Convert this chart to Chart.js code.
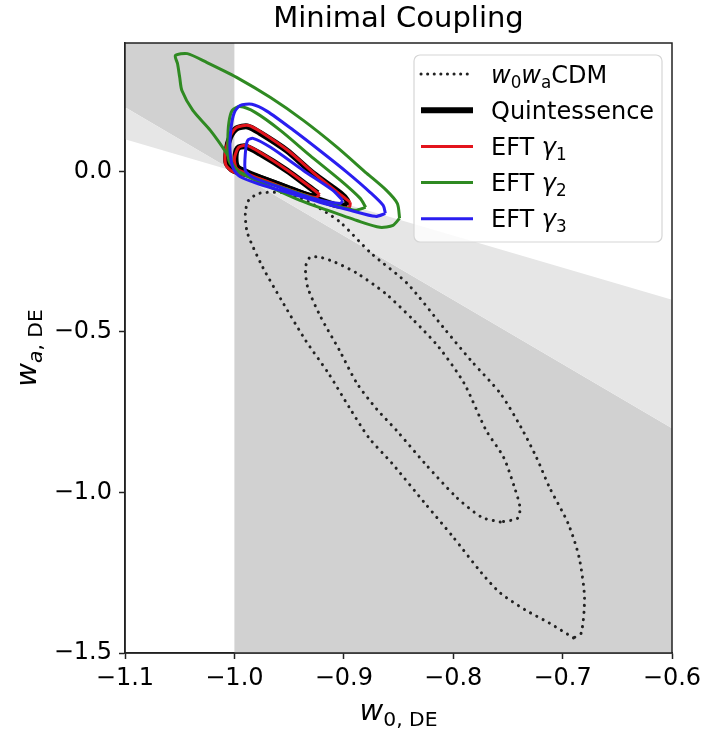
<!DOCTYPE html>
<html>
<head>
<meta charset="utf-8">
<script src="https://cdn.jsdelivr.net/npm/chart.js@4.4.1/dist/chart.umd.min.js"></script>
<style>
  html, body { margin: 0; padding: 0; background: #fff; }
  #wrap { width: 708px; height: 734px; }
</style>
</head>
<body>
<div id="wrap"><canvas id="chart" width="708" height="734"></canvas></div>
<script>
// --- axes ---
const xRange = [-1.1, -0.6];
const yRange = [-1.5, 0.4];
const xTickVals = [-1.1, -1.0, -0.9, -0.8, -0.7, -0.6];
const yTickVals = [-1.5, -1.0, -0.5, 0.0];

// --- shaded priors (w0, wa corners) ---
const darkLeft = [[-1.1, 0.4], [-1.0, 0.4], [-1.0, 0.0], [-1.1, 0.2]];
const darkRight = [[-1.0, 0.0], [-0.6, -0.8], [-0.6, -1.5], [-1.0, -1.5]];
const lightBand = [[-1.1, 0.1], [-1.1, 0.2], [-0.6, -0.8], [-0.6, -0.4]];

// --- contours, [w0, wa] ---
const lcdm95 = [
  [-0.690, -1.453], [-0.712, -1.407], [-0.734, -1.366], [-0.757, -1.313], [-0.774, -1.251],
  [-0.800, -1.139], [-0.826, -1.033], [-0.856, -0.909], [-0.877, -0.830], [-0.895, -0.735],
  [-0.914, -0.629], [-0.935, -0.526], [-0.957, -0.401], [-0.974, -0.299], [-0.988, -0.193],
  [-0.990, -0.131], [-0.987, -0.090], [-0.977, -0.068], [-0.956, -0.066], [-0.940, -0.082],
  [-0.922, -0.115], [-0.903, -0.159], [-0.875, -0.255], [-0.842, -0.349], [-0.809, -0.486],
  [-0.784, -0.588], [-0.757, -0.691], [-0.738, -0.797], [-0.724, -0.890], [-0.712, -0.984],
  [-0.695, -1.096], [-0.685, -1.201], [-0.680, -1.326], [-0.683, -1.438]
];
const lcdm68 = [
  [-0.757, -1.092], [-0.774, -1.077], [-0.797, -1.015], [-0.826, -0.909], [-0.852, -0.806],
  [-0.870, -0.740], [-0.888, -0.660], [-0.904, -0.557], [-0.921, -0.454], [-0.933, -0.361],
  [-0.935, -0.299], [-0.931, -0.268], [-0.921, -0.268], [-0.908, -0.283], [-0.888, -0.317],
  [-0.862, -0.380], [-0.836, -0.464], [-0.813, -0.548], [-0.790, -0.660], [-0.770, -0.806],
  [-0.754, -0.890], [-0.744, -0.984], [-0.739, -1.046], [-0.741, -1.080]
];
const quint95 = [
  [-0.897, -0.106], [-0.906, -0.106], [-0.928, -0.081], [-0.952, -0.050], [-0.977, -0.019],
  [-1.001, 0.003], [-1.007, 0.025], [-1.007, 0.065], [-1.004, 0.106], [-0.998, 0.134],
  [-0.988, 0.140], [-0.977, 0.121], [-0.952, 0.065], [-0.928, -0.006], [-0.903, -0.068],
  [-0.897, -0.090]
];
const quint68 = [
  [-0.924, -0.068], [-0.928, -0.078], [-0.946, -0.059], [-0.970, -0.028], [-0.988, -0.003],
  [-0.997, 0.012], [-0.999, 0.040], [-0.997, 0.072], [-0.990, 0.078], [-0.977, 0.056],
  [-0.952, 0.003], [-0.931, -0.050]
];
const eft1_95 = [
  [-0.894, -0.096], [-0.895, -0.112], [-0.905, -0.109], [-0.928, -0.084], [-0.953, -0.053],
  [-0.978, -0.022], [-1.002, 0.000], [-1.008, 0.022], [-1.008, 0.065], [-1.004, 0.109],
  [-0.998, 0.137], [-0.987, 0.143], [-0.975, 0.121], [-0.950, 0.062], [-0.926, -0.009],
  [-0.902, -0.075]
];
const eft1_68 = [
  [-0.922, -0.072], [-0.926, -0.081], [-0.946, -0.062], [-0.971, -0.031], [-0.989, -0.006],
  [-0.998, 0.009], [-1.000, 0.040], [-0.996, 0.075], [-0.989, 0.081], [-0.975, 0.056],
  [-0.950, 0.000], [-0.929, -0.053]
];
const eft2_95 = [
  [-0.849, -0.146], [-0.855, -0.168], [-0.867, -0.174], [-0.888, -0.153], [-0.915, -0.121],
  [-0.940, -0.090], [-0.970, -0.044], [-0.995, -0.003], [-1.001, 0.019], [-1.007, 0.056],
  [-1.022, 0.128], [-1.038, 0.190], [-1.048, 0.252], [-1.050, 0.293], [-1.052, 0.336],
  [-1.054, 0.361], [-1.043, 0.367], [-1.025, 0.339], [-0.998, 0.293], [-0.967, 0.230],
  [-0.937, 0.159], [-0.906, 0.075], [-0.879, -0.006], [-0.861, -0.059], [-0.851, -0.100]
];
const eft2_68 = [
  [-0.880, -0.112], [-0.890, -0.121], [-0.922, -0.090], [-0.954, -0.053], [-0.981, -0.022],
  [-0.998, 0.003], [-1.005, 0.034], [-1.006, 0.096], [-1.005, 0.153], [-1.002, 0.190],
  [-0.995, 0.202], [-0.981, 0.184], [-0.958, 0.128], [-0.931, 0.050], [-0.903, -0.028],
  [-0.885, -0.084]
];
const eft3_95 = [
  [-0.862, -0.131], [-0.871, -0.140], [-0.894, -0.121], [-0.922, -0.096], [-0.949, -0.068],
  [-0.977, -0.040], [-0.995, -0.016], [-1.001, 0.009], [-1.004, 0.065], [-1.003, 0.137],
  [-1.000, 0.184], [-0.995, 0.205], [-0.984, 0.209], [-0.970, 0.187], [-0.946, 0.128],
  [-0.922, 0.065], [-0.897, -0.003], [-0.876, -0.065], [-0.864, -0.106]
];
const eft3_68 = [
  [-0.901, -0.090], [-0.903, -0.100], [-0.928, -0.084], [-0.958, -0.050], [-0.983, -0.019],
  [-0.990, 0.003], [-0.990, 0.056], [-0.988, 0.096], [-0.983, 0.103], [-0.967, 0.075],
  [-0.937, 0.003], [-0.910, -0.059]
];

// legend / series look
const seriesColors = ['#222222', '#000000', '#e3141c', '#2f8a22', '#2a1ef0'];
const seriesWidths = [3, 6, 3, 3, 3];
const dotDash = [0.1, 7];

function toPts(arr) {
  const pts = arr.map(p => ({ x: p[0], y: p[1] }));
  pts.push({ x: arr[0][0], y: arr[0][1] });
  return pts;
}

function shade(arr, color, ord) {
  return {
    data: toPts(arr), showLine: true, fill: 'shape', backgroundColor: color,
    borderColor: 'transparent', borderWidth: 0, pointRadius: 0, order: ord
  };
}

function contour(arr, i, ord) {
  const dotted = i === 0;
  return {
    data: toPts(arr), showLine: true, fill: false,
    borderColor: seriesColors[i], borderWidth: seriesWidths[i],
    borderDash: dotted ? dotDash : [], borderCapStyle: dotted ? 'round' : 'butt',
    borderJoinStyle: 'round', pointRadius: 0, tension: 0.25, order: ord
  };
}

const FONT = '"DejaVu Sans", sans-serif';

// text with italic / subscript pieces, like mathtext
function drawMath(ctx, parts, x, y, size, align) {
  const subSize = size * 0.7;
  let total = 0;
  const widths = parts.map(p => {
    ctx.font = (p.it ? 'italic ' : '') + (p.sub ? subSize : size) + 'px ' + FONT;
    const w = ctx.measureText(p.t).width;
    total += w;
    return w;
  });
  let cx = align === 'center' ? x - total / 2 : x;
  ctx.textAlign = 'left';
  ctx.textBaseline = 'alphabetic';
  ctx.fillStyle = '#000';
  parts.forEach((p, k) => {
    ctx.font = (p.it ? 'italic ' : '') + (p.sub ? subSize : size) + 'px ' + FONT;
    ctx.fillText(p.t, cx, p.sub ? y + size * 0.21 : y);
    cx += widths[k];
  });
}

const legendRows = [
  [{ t: 'w', it: 1 }, { t: '0', sub: 1 }, { t: 'w', it: 1 }, { t: 'a', sub: 1 }, { t: 'CDM' }],
  [{ t: 'Quintessence' }],
  [{ t: 'EFT ' }, { t: 'γ', it: 1 }, { t: '1', sub: 1 }],
  [{ t: 'EFT ' }, { t: 'γ', it: 1 }, { t: '2', sub: 1 }],
  [{ t: 'EFT ' }, { t: 'γ', it: 1 }, { t: '3', sub: 1 }]
];
const xLabelParts = [{ t: 'w', it: 1 }, { t: '0, DE', sub: 1 }];
const yLabelParts = [{ t: 'w', it: 1 }, { t: 'a', it: 1, sub: 1 }, { t: ', DE', sub: 1 }];

const decorations = {
  id: 'decorations',
  afterDraw(chart) {
    const { ctx, chartArea: a } = chart;
    ctx.save();
    // frame
    ctx.strokeStyle = '#222';
    ctx.lineWidth = 1.5;
    ctx.strokeRect(a.left, a.top, a.right - a.left, a.bottom - a.top);

    // axis labels
    drawMath(ctx, xLabelParts, (a.left + a.right) / 2, 720, 29, 'center');
    ctx.save();
    ctx.translate(36, (a.top + a.bottom) / 2);
    ctx.rotate(-Math.PI / 2);
    drawMath(ctx, yLabelParts, 0, 0, 29, 'center');
    ctx.restore();

    // legend
    const bx = a.right - 258, by = a.top + 12, bw = 248, bh = 187;
    ctx.beginPath();
    ctx.roundRect(bx, by, bw, bh, 6);
    ctx.fillStyle = 'rgba(255,255,255,0.8)';
    ctx.fill();
    ctx.strokeStyle = '#d6d6d6';
    ctx.lineWidth = 1.2;
    ctx.stroke();
    legendRows.forEach((row, i) => {
      const cy = by + 19 + i * 36.2;
      ctx.beginPath();
      ctx.strokeStyle = seriesColors[i];
      ctx.lineWidth = seriesWidths[i];
      ctx.setLineDash(i === 0 ? [0.1, 6.5] : []);
      ctx.lineCap = i === 0 ? 'round' : 'butt';
      ctx.moveTo(bx + 7, cy);
      ctx.lineTo(bx + 59, cy);
      ctx.stroke();
      ctx.setLineDash([]);
      drawMath(ctx, row, bx + 77, cy + 24 * 0.36, 24, 'left');
    });
    ctx.restore();
  }
};

const fmt = v => v.toFixed(1).replace('-', '\u2212');

new Chart(document.getElementById('chart'), {
  type: 'scatter',
  data: {
    datasets: [
      shade(darkLeft, '#d1d1d1', 100),
      shade(darkRight, '#d1d1d1', 99),
      shade(lightBand, '#e6e6e6', 98),
      contour(lcdm95, 0, 50),
      contour(lcdm68, 0, 49),
      contour(quint95, 1, 40),
      contour(quint68, 1, 39),
      contour(eft1_95, 2, 30),
      contour(eft1_68, 2, 29),
      contour(eft2_95, 3, 20),
      contour(eft2_68, 3, 19),
      contour(eft3_95, 4, 10),
      contour(eft3_68, 4, 9)
    ]
  },
  options: {
    responsive: false,
    devicePixelRatio: 1,
    animation: false,
    events: [],
    layout: { padding: { left: 0, right: 36, top: 0, bottom: 0 } },
    plugins: {
      legend: { display: false },
      tooltip: { enabled: false },
      title: {
        display: true,
        text: 'Minimal Coupling',
        fullSize: false,
        color: '#000',
        font: { family: FONT, size: 29, weight: 'normal', lineHeight: 1.2 },
        padding: { top: 2, bottom: 6.2 }
      }
    },
    scales: {
      x: {
        type: 'linear', position: 'bottom',
        min: xRange[0], max: xRange[1],
        afterBuildTicks: s => { s.ticks = xTickVals.map(v => ({ value: v })); },
        afterFit: s => { s.height = 81; },
        ticks: { callback: fmt, color: '#000', font: { family: FONT, size: 24 }, padding: 5, autoSkip: false, maxRotation: 0 },
        grid: { drawOnChartArea: false, drawTicks: true, tickLength: 6, tickColor: '#222', tickWidth: 1.5 },
        border: { display: true, color: '#222', width: 1.5 }
      },
      y: {
        type: 'linear', position: 'left',
        min: yRange[0], max: yRange[1],
        afterBuildTicks: s => { s.ticks = yTickVals.map(v => ({ value: v })); },
        afterFit: s => { s.width = 125; },
        ticks: { callback: fmt, color: '#000', font: { family: FONT, size: 24 }, padding: 7, autoSkip: false },
        grid: { drawOnChartArea: false, drawTicks: true, tickLength: 6, tickColor: '#222', tickWidth: 1.5 },
        border: { display: true, color: '#222', width: 1.5 }
      }
    }
  },
  plugins: [decorations]
});
</script>
</body>
</html>
